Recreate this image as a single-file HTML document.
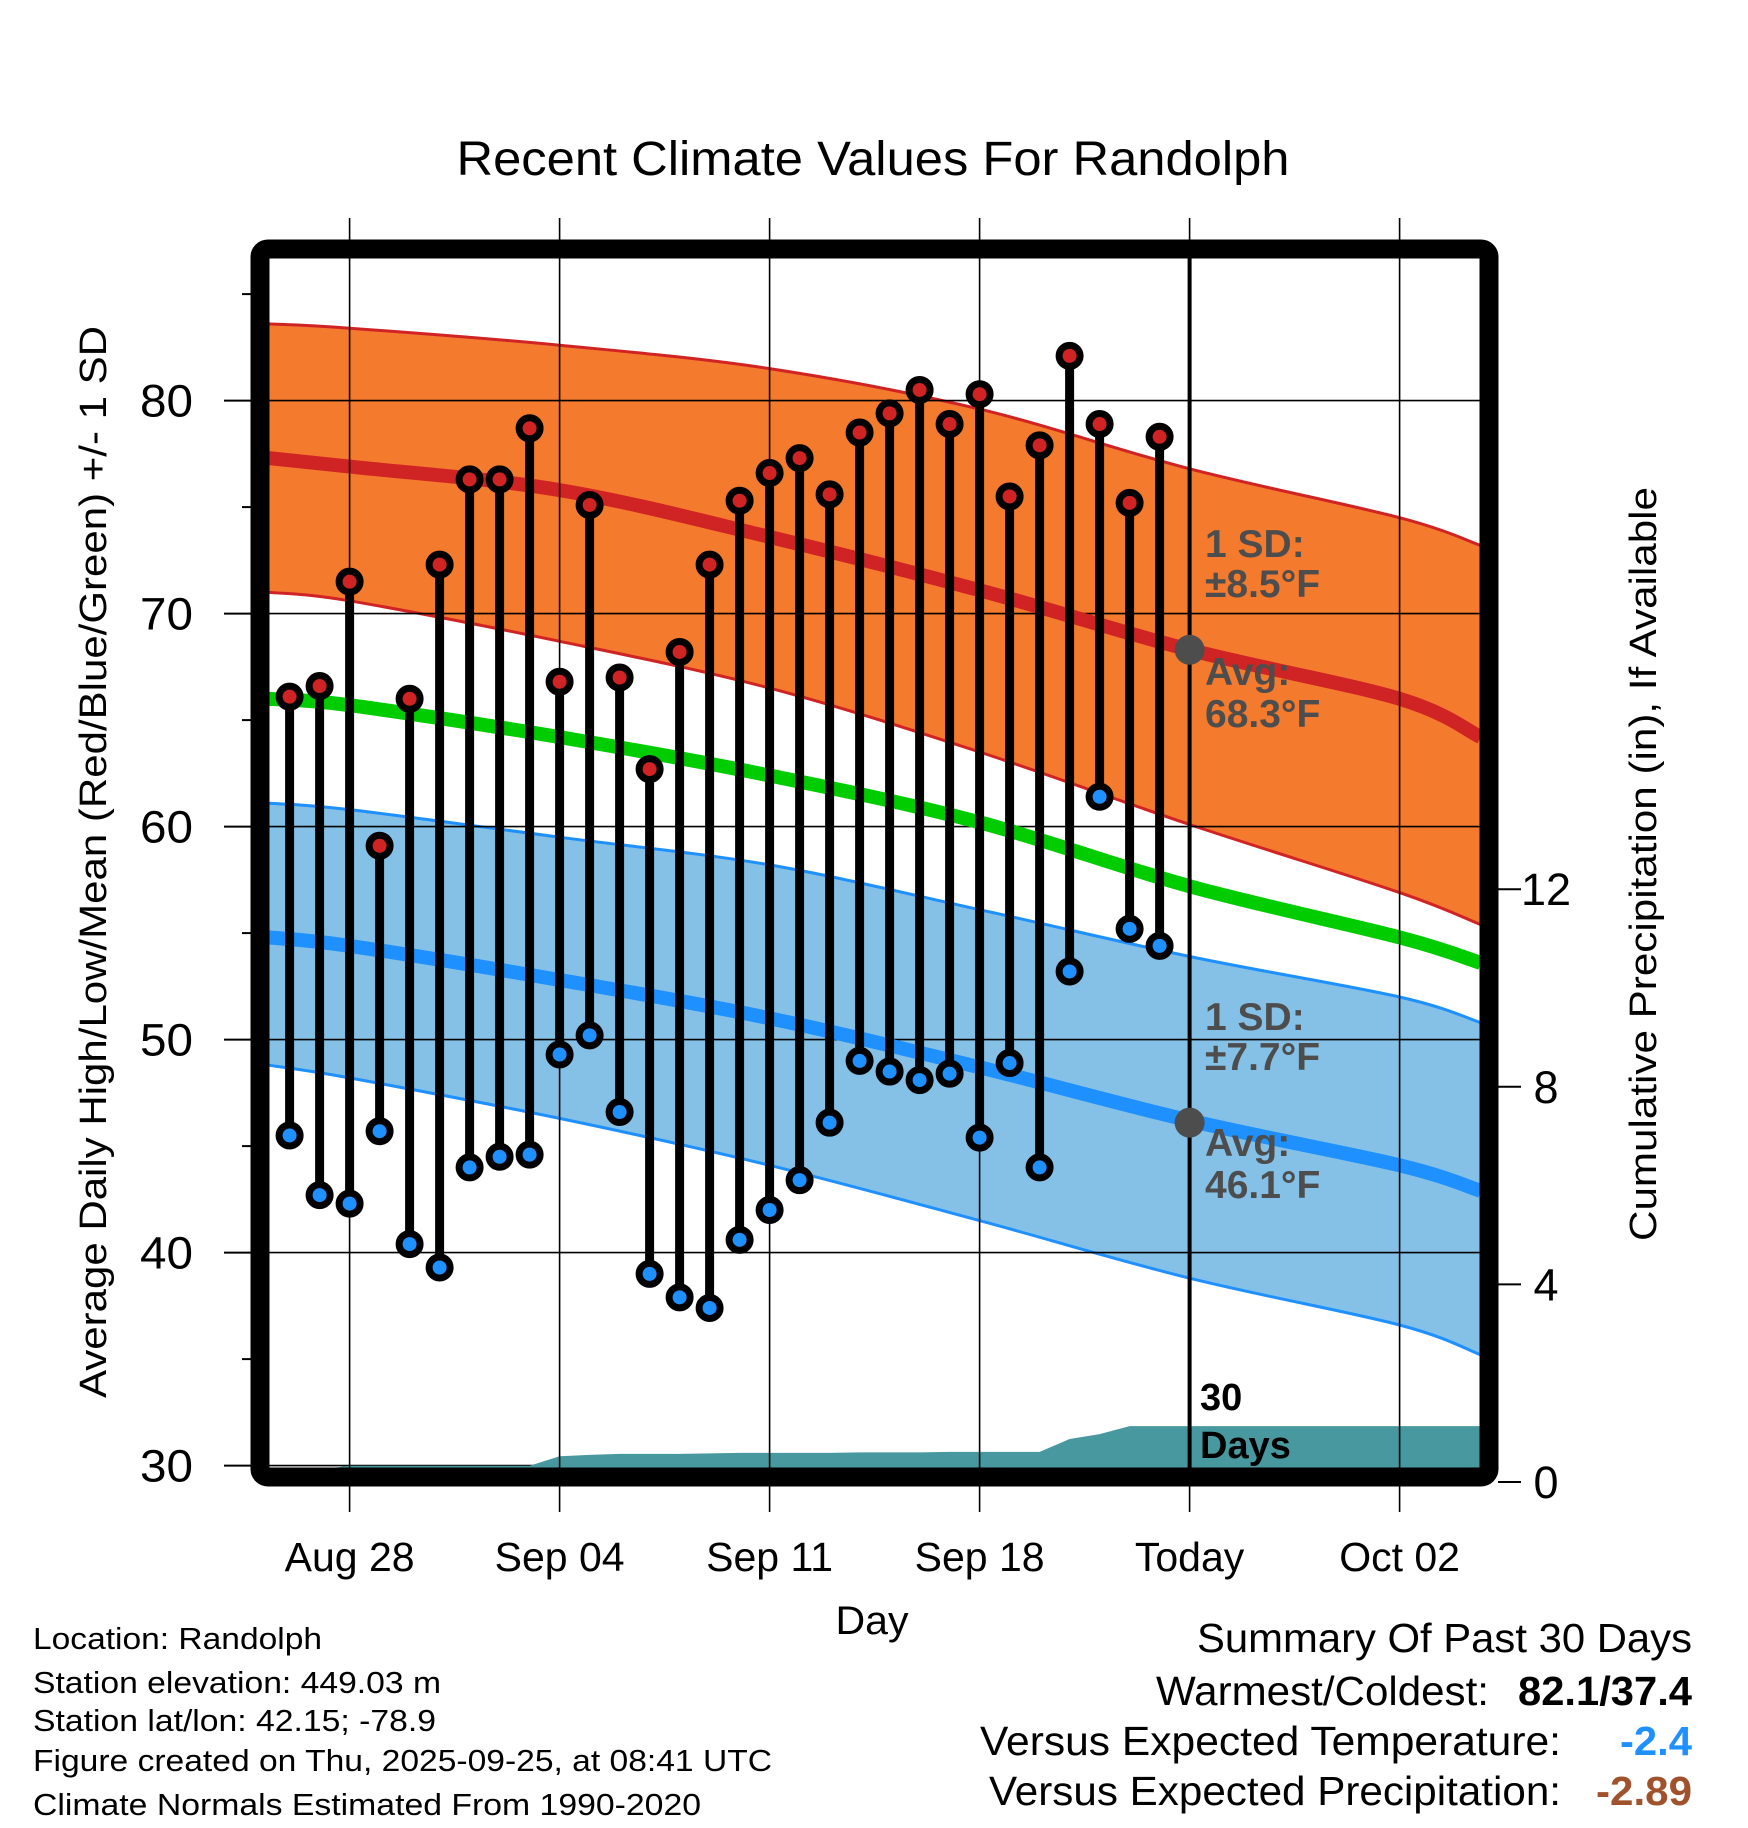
<!DOCTYPE html>
<html><head><meta charset="utf-8"><style>
body{margin:0;background:#fff;}
svg{display:block;font-family:"Liberation Sans",Arial,sans-serif;}
</style></head><body>
<svg id="chart" width="1748" height="1828" viewBox="0 0 1748 1828" xmlns="http://www.w3.org/2000/svg">
<rect width="1748" height="1828" fill="#fff"/>
<defs><clipPath id="plotclip"><rect x="269" y="258" width="1211" height="1210"/></clipPath></defs>
<text x="873" y="175" font-size="48" text-anchor="middle" textLength="833" lengthAdjust="spacingAndGlyphs">Recent Climate Values For Randolph</text>
<g id="plot" clip-path="url(#plotclip)"></g>
<g id="overlay"></g>
<text transform="translate(106,862) rotate(-90)" font-size="38" text-anchor="middle" textLength="1072" lengthAdjust="spacingAndGlyphs">Average Daily High/Low/Mean (Red/Blue/Green) +/- 1 SD</text>
<text transform="translate(1656,864) rotate(-90)" font-size="38" text-anchor="middle" textLength="754" lengthAdjust="spacingAndGlyphs">Cumulative Precipitation (in), If Available</text>
<text x="872" y="1634" font-size="40" text-anchor="middle" textLength="73" lengthAdjust="spacingAndGlyphs">Day</text>
<g font-size="31">
<text x="33" y="1649" textLength="289" lengthAdjust="spacingAndGlyphs">Location: Randolph</text>
<text x="33" y="1693" textLength="408" lengthAdjust="spacingAndGlyphs">Station elevation: 449.03 m</text>
<text x="33" y="1731" textLength="403" lengthAdjust="spacingAndGlyphs">Station lat/lon: 42.15; -78.9</text>
<text x="33" y="1771" textLength="739" lengthAdjust="spacingAndGlyphs">Figure created on Thu, 2025-09-25, at 08:41 UTC</text>
<text x="33" y="1815" textLength="668" lengthAdjust="spacingAndGlyphs">Climate Normals Estimated From 1990-2020</text>
</g>
<g font-size="41">
<text x="1197" y="1652" textLength="495" lengthAdjust="spacingAndGlyphs">Summary Of Past 30 Days</text>
<text x="1156" y="1705" textLength="333" lengthAdjust="spacingAndGlyphs">Warmest/Coldest:</text>
<text x="1518" y="1705" font-weight="bold" textLength="174" lengthAdjust="spacingAndGlyphs">82.1/37.4</text>
<text x="980" y="1755" textLength="581" lengthAdjust="spacingAndGlyphs">Versus Expected Temperature:</text>
<text x="1620" y="1755" font-weight="bold" fill="#1e90ff" textLength="72" lengthAdjust="spacingAndGlyphs">-2.4</text>
<text x="989" y="1805" textLength="572" lengthAdjust="spacingAndGlyphs">Versus Expected Precipitation:</text>
<text x="1596" y="1805" font-weight="bold" fill="#a0522d" textLength="96" lengthAdjust="spacingAndGlyphs">-2.89</text>
</g>
</svg>
<script>
// ---- data ----
const dayLabels = ["Aug 28","Sep 04","Sep 11","Sep 18","Today","Oct 02"];
const labelDays = [0,7,14,21,28,35];
const yTicks = [30,40,50,60,70,80];
const y2Ticks = [0,4,8,12];
const obsDays = [-2,-1,0,1,2,3,4,5,6,7,8,9,10,11,12,13,14,15,16,17,18,19,20,21,22,23,24,25,26,27];
const highs = [66.1,66.6,71.5,59.1,66.0,72.3,76.3,76.3,78.7,66.8,75.1,67.0,62.7,68.2,72.3,75.3,76.6,77.3,75.6,78.5,79.4,80.5,78.9,80.3,75.5,77.9,82.1,78.9,75.2,78.3];
const lows = [45.5,42.7,42.3,45.7,40.4,39.3,44.0,44.5,44.6,49.3,50.2,46.6,39.0,37.9,37.4,40.6,42.0,43.4,46.1,49.0,48.5,48.1,48.4,45.4,48.9,44.0,53.2,61.4,55.2,54.4];
const precip = [0.2,0.25,0.33,0.33,0.33,0.33,0.33,0.33,0.33,0.52,0.55,0.57,0.57,0.57,0.58,0.59,0.59,0.59,0.59,0.6,0.6,0.6,0.61,0.61,0.61,0.61,0.87,0.97,1.13,1.13];
const normDays = [-2.7,0,7,14,21,28,35,37.7];
const normHigh = [77.3,76.9,75.8,73.6,71.1,68.3,66.0,64.2];
const normHighUp = [83.6,83.4,82.6,81.5,79.6,76.8,74.5,73.2];
const normHighLo = [71.0,70.6,68.7,66.5,63.5,60.1,56.9,55.4];
const normMean = [66.0,65.7,64.2,62.4,60.2,57.2,54.8,53.6];
const normLow = [54.8,54.4,52.8,51.0,48.7,46.2,44.1,42.9];
const normLowUp = [61.1,60.8,59.5,58.2,56.1,53.9,52.0,50.8];
const normLowLo = [48.8,48.2,46.3,44.1,41.5,38.8,36.6,35.2];
const todayDay = 28, todayHigh = 68.3, todayLow = 46.1;

// ---- scales ----
const xD = d => 349.6 + d*30;
const yT = v => 1465.6 - (v-30)*21.3;
const yP = p => 1482 - p*49.4;
const NS = "http://www.w3.org/2000/svg";
const plot = document.getElementById('plot');
const over = document.getElementById('overlay');
function mk(tag, attrs, parent){const e=document.createElementNS(NS,tag);for(const k in attrs)e.setAttribute(k,attrs[k]);parent.appendChild(e);return e;}
// smooth (Catmull-Rom) path through the data points
function smooth(days, vals, start){
  const P = days.map((d,i)=>[xD(d), yT(vals[i])]);
  let s = (start ? 'M' : 'L') + P[0][0].toFixed(1)+','+P[0][1].toFixed(1);
  for(let i=0;i<P.length-1;i++){
    const p0=P[Math.max(0,i-1)], p1=P[i], p2=P[i+1], p3=P[Math.min(P.length-1,i+2)];
    const c1=[p1[0]+(p2[0]-p0[0])/6, p1[1]+(p2[1]-p0[1])/6];
    const c2=[p2[0]-(p3[0]-p1[0])/6, p2[1]-(p3[1]-p1[1])/6];
    s += ' C'+c1[0].toFixed(1)+','+c1[1].toFixed(1)+' '+c2[0].toFixed(1)+','+c2[1].toFixed(1)+' '+p2[0].toFixed(1)+','+p2[1].toFixed(1);
  }
  return s;
}
function band(up, lo, fill, edge, name){
  const rd = normDays.slice().reverse(), rl = lo.slice().reverse();
  const d = smooth(normDays, up, true) + ' ' + smooth(rd, rl, false) + ' Z';
  const p = mk('path',{d:d,fill:fill},plot);
  
  
  const a = mk('path',{d:smooth(normDays,up,true),fill:'none',stroke:edge,'stroke-width':3},plot);
  
  
  const b = mk('path',{d:smooth(normDays,lo,true),fill:'none',stroke:edge,'stroke-width':3},plot);
  
  
}
band(normHighUp, normHighLo, '#f47a2e', '#d02324', 'high-sd');
band(normLowUp, normLowLo, '#85c1e6', '#1e90ff', 'low-sd');
// grid
yTicks.forEach(v=>{
  const g = mk('line',{x1:250,x2:1499,y1:yT(v),y2:yT(v),stroke:'#000','stroke-width':1.6},plot);
  
  
});
labelDays.forEach(d=>{
  const g = mk('line',{x1:xD(d),x2:xD(d),y1:218,y2:1512,stroke:'#000','stroke-width':1.6},over);
  
  
});
// precip area
{
  const pts = [xD(obsDays[0])+','+yP(0)].concat(obsDays.map((d,i)=>xD(d)+','+yP(precip[i])));
  pts.push('1480,'+yP(precip[precip.length-1]));
  pts.push('1480,'+yP(0));
  const a = mk('polygon',{points:pts.join(' '),fill:'#48999f'},plot);
  
  
}
// normal lines
[[normHigh,'#d02324','normal-high-line'],[normMean,'#00cc00','normal-mean-line'],[normLow,'#1e90ff','normal-low-line']].forEach(([arr,c,n])=>{
  const l = mk('path',{d:smooth(normDays,arr,true),fill:'none',stroke:c,'stroke-width':14},plot);
  
  
});
// today line
{
  const l = mk('line',{x1:xD(todayDay),x2:xD(todayDay),y1:249,y2:1477,stroke:'#000','stroke-width':4},over);
  
  
}
// stems and markers
obsDays.forEach((d,i)=>{
  const x = xD(d), yh = yT(highs[i]), yl = yT(lows[i]);
  const s = mk('line',{x1:x,x2:x,y1:yh,y2:yl,stroke:'#000','stroke-width':9},over);
  
  
  const h = mk('circle',{cx:x,cy:yh,r:10.5,fill:'#d02324',stroke:'#000','stroke-width':7},over);
  
  
  const lw = mk('circle',{cx:x,cy:yl,r:10.5,fill:'#1e90ff',stroke:'#000','stroke-width':7},over);
  
  
});
// today avg dots
[todayHigh,todayLow].forEach(v=>{
  const c = mk('circle',{cx:xD(todayDay),cy:yT(v),r:15,fill:'#4d4d4d'},over);
  
  
});
// frame
{
  const f = mk('rect',{x:260,y:249,width:1229,height:1228,rx:8,fill:'none',stroke:'#000','stroke-width':19},over);
  
  
}
// y ticks
for(let v=30; v<=85; v+=5){
  const major = v%10===0;
  const t = mk('line',{x1:major?224:242,x2:251,y1:yT(v),y2:yT(v),stroke:'#000','stroke-width':2},over);
  
  
}
yTicks.forEach(v=>{
  const t = mk('text',{x:193,y:yT(v)+16,'font-size':45,'text-anchor':'end',textLength:53,lengthAdjust:'spacingAndGlyphs'},over);
  t.textContent = v;
  
  
});
y2Ticks.forEach(p=>{
  const t = mk('line',{x1:1498,x2:1521,y1:yP(p),y2:yP(p),stroke:'#000','stroke-width':2},over);
  
  
  const l = mk('text',{x:1546,y:yP(p)+16,'font-size':45,'text-anchor':'middle'},over);
  l.textContent = p;
  
  
});
labelDays.forEach((d,i)=>{
  const l = mk('text',{x:xD(d),y:1571,'font-size':41,'text-anchor':'middle'},over);
  l.textContent = dayLabels[i];
  
  
});
// annotations
[['1 SD:',557],['±8.5°F',597],['Avg:',685],['68.3°F',727],['1 SD:',1030],['±7.7°F',1070],['Avg:',1156],['46.1°F',1198]].forEach(([s,y])=>{
  const t = mk('text',{x:1205,y:y,'font-size':39,'font-weight':'bold',fill:'#4d4d4d'},over);
  t.textContent = s;
  
  
});
[['30',1410],['Days',1458]].forEach(([s,y])=>{
  const t = mk('text',{x:1200,y:y,'font-size':38,'font-weight':'bold',fill:'#000'},over);
  t.textContent = s;
  
  
});
</script>
</body></html>
